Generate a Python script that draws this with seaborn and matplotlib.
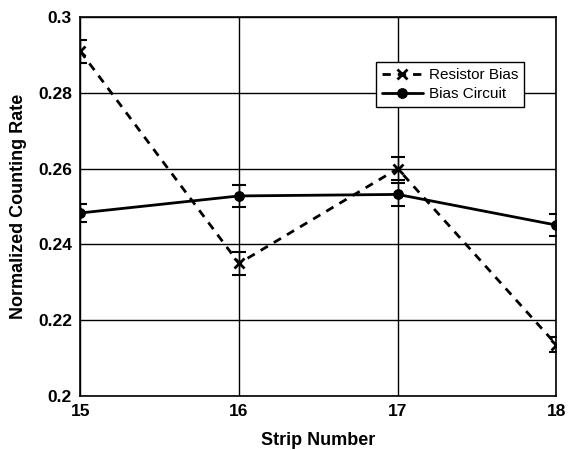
import matplotlib
matplotlib.use("Agg")
import matplotlib.pyplot as plt
import seaborn as sns
import pandas as pd

strips = [15, 16, 17, 18]
resistor_bias = [0.291, 0.235, 0.260, 0.2135]
resistor_err = [0.003, 0.003, 0.003, 0.002]
bias_circuit = [0.2483, 0.2528, 0.2532, 0.2451]
circuit_err = [0.0025, 0.003, 0.003, 0.003]
yticks = [0.2, 0.22, 0.24, 0.26, 0.28, 0.3]
ytick_labels = ["0.2", "0.22", "0.24", "0.26", "0.28", "0.3"]

sns.set_theme(style="white")
plt.rcParams['font.family'] = ['Liberation Sans', 'DejaVu Sans']
plt.rcParams['text.color'] = 'black'
plt.rcParams['axes.labelcolor'] = 'black'
plt.rcParams['xtick.color'] = 'black'
plt.rcParams['ytick.color'] = 'black'

fig = plt.figure(figsize=(5.69, 4.5), dpi=100)
ax = fig.add_axes([0.141, 0.12, 0.837, 0.842])

df_r = pd.DataFrame({"strip": strips, "rate": resistor_bias})
df_c = pd.DataFrame({"strip": strips, "rate": bias_circuit})

sns.lineplot(data=df_r, x="strip", y="rate", color="black", linestyle=(0, (3, 2.5)),
             marker="x", markersize=7, markeredgewidth=2, markeredgecolor="black",
             linewidth=2.0, ax=ax, label="Resistor Bias")
sns.lineplot(data=df_c, x="strip", y="rate", color="black", linestyle="-",
             marker="o", markersize=7, markeredgecolor="black", linewidth=2.0,
             ax=ax, label="Bias Circuit")

ax.errorbar(strips, resistor_bias, yerr=resistor_err, fmt="none", ecolor="black",
            elinewidth=1.0, capsize=5, capthick=1.5)
ax.errorbar(strips, bias_circuit, yerr=circuit_err, fmt="none", ecolor="black",
            elinewidth=1.0, capsize=5, capthick=1.5)

ax.set_xlim(15, 18)
ax.set_ylim(0.2, 0.3)
ax.set_xticks(strips)
ax.set_xticklabels([str(s) for s in strips], fontsize=12.5, fontweight="bold")
ax.set_yticks(yticks)
ax.set_yticklabels(ytick_labels, fontsize=12.5, fontweight="bold")
ax.grid(True, color="black", linewidth=1.0)
for s in ax.spines.values():
    s.set_color("black")
    s.set_linewidth(1.2)
ax.tick_params(axis="both", direction="inout", length=8, width=1, color="black",
               labelcolor="black", pad=2)
ax.set_xlabel("Strip Number", fontsize=13, fontweight="bold", labelpad=9, color="black")
ax.set_ylabel("Normalized Counting Rate", fontsize=13, fontweight="bold", labelpad=8,
              color="black")

handles, labels = ax.get_legend_handles_labels()
leg = ax.legend(handles, labels, loc="upper left", bbox_to_anchor=(0.62, 0.881),
                borderaxespad=0,
                frameon=True, fancybox=False, edgecolor="black", framealpha=1,
                fontsize=11, handlelength=2.7, borderpad=0.4, labelspacing=0.3,
                handletextpad=0.4, labelcolor="black")
leg.get_frame().set_linewidth(1.0)

fig.savefig("out.png", dpi=100)
